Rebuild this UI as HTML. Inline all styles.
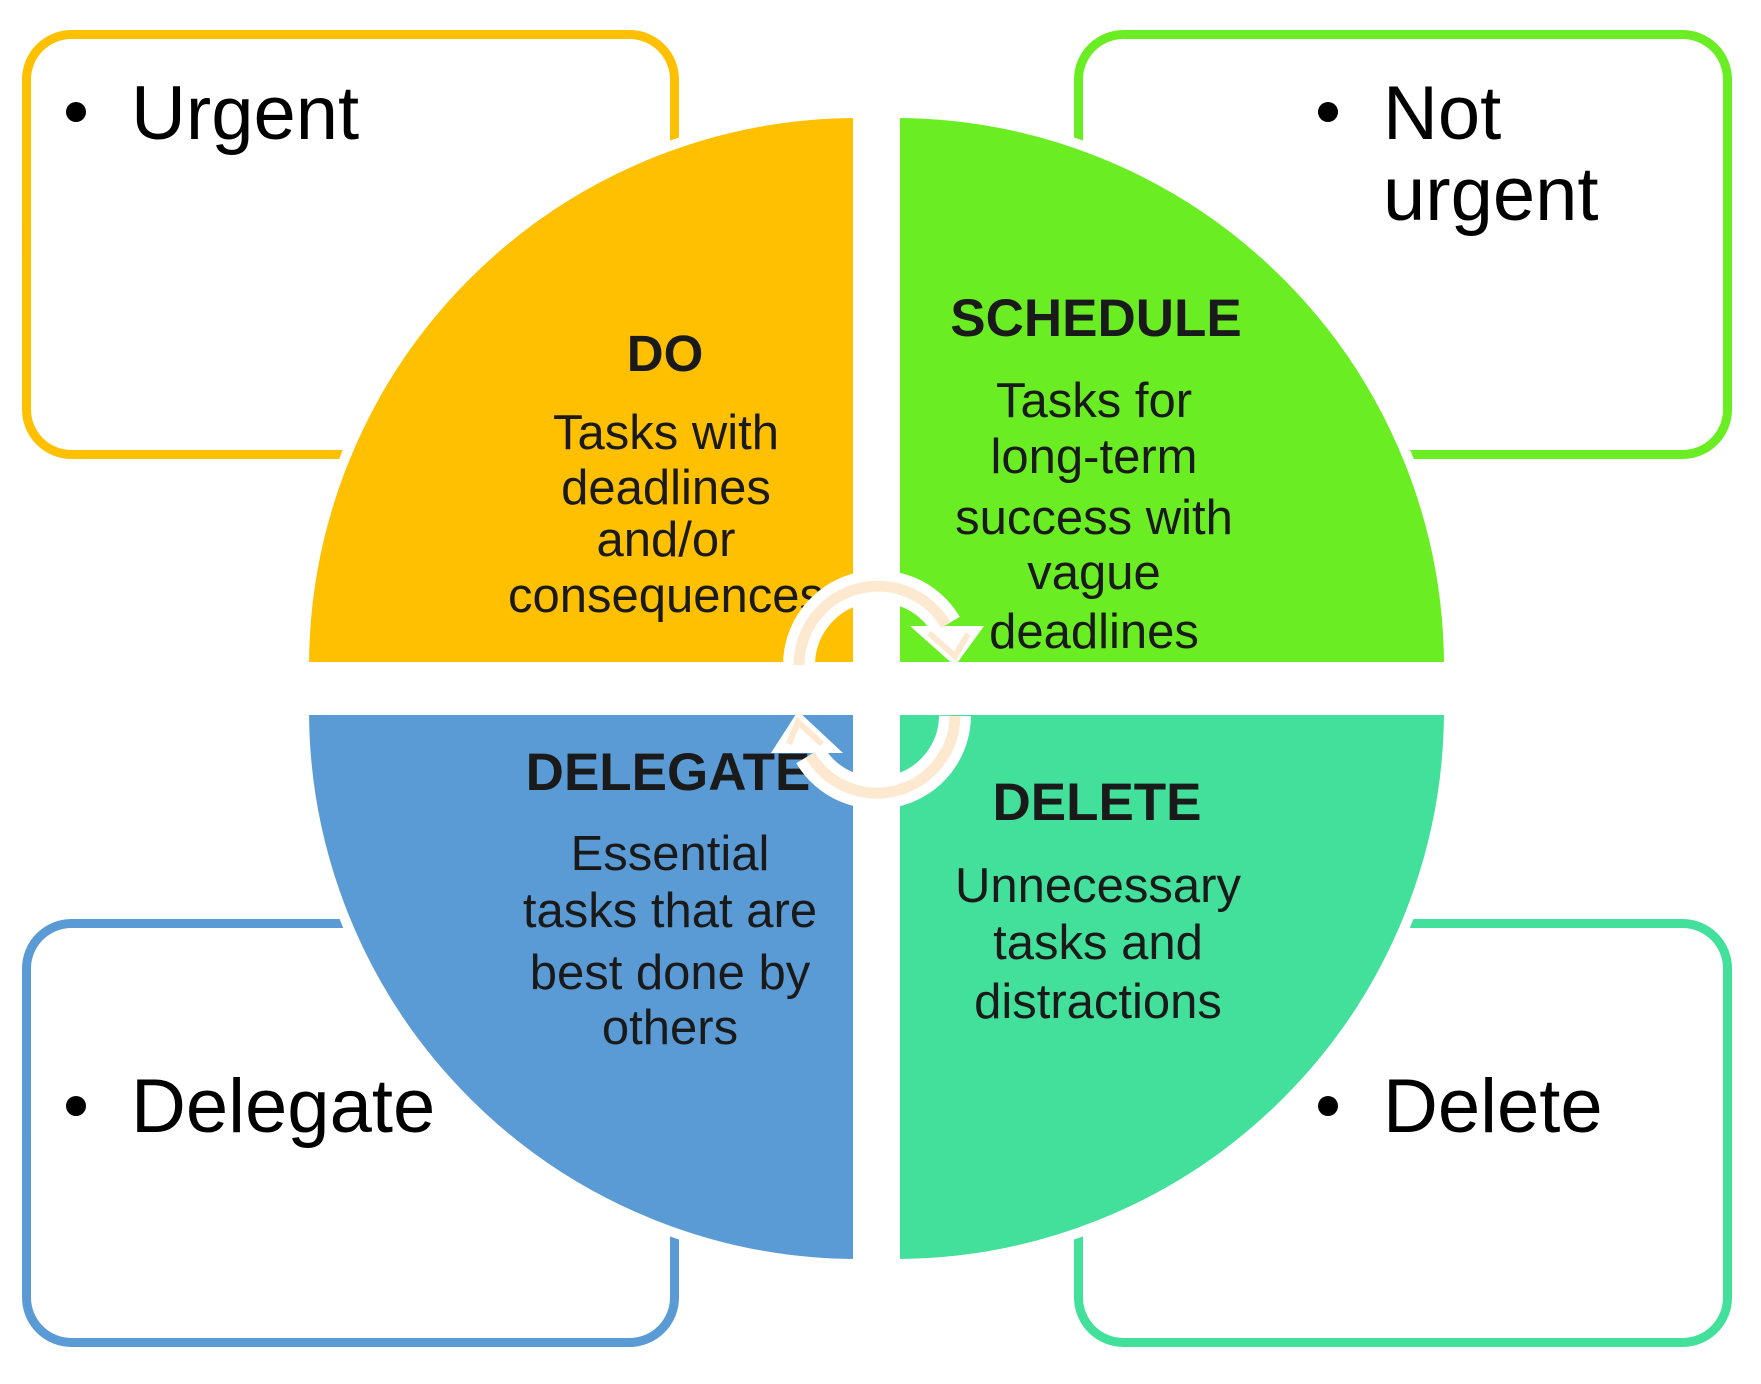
<!DOCTYPE html>
<html><head><meta charset="utf-8"><style>
html,body{margin:0;padding:0;background:#fff;}
svg{display:block;}
text{font-family:"Liberation Sans",Arial,sans-serif;}
</style></head><body>
<svg width="1761" height="1384" viewBox="0 0 1761 1384" xmlns="http://www.w3.org/2000/svg">
<!-- boxes -->
<rect x="26.5" y="34.5" width="648" height="420" rx="45" fill="#fff" stroke="#FEC000" stroke-width="9"/>
<rect x="1078.5" y="34.5" width="649" height="420" rx="45" fill="#fff" stroke="#6AEE23" stroke-width="9"/>
<rect x="26.5" y="923.5" width="648" height="419" rx="45" fill="#fff" stroke="#5B9BD5" stroke-width="9"/>
<rect x="1078.5" y="923.5" width="649" height="419" rx="45" fill="#fff" stroke="#42E09A" stroke-width="9"/>
<g font-size="76" fill="#000">
<circle cx="76" cy="112" r="10"/><text x="131" y="139">Urgent</text>
<circle cx="1328" cy="112" r="10"/><text x="1383" y="139">Not</text><text x="1383" y="220">urgent</text>
<circle cx="76" cy="1106" r="10"/><text x="131" y="1132">Delegate</text>
<circle cx="1328" cy="1106" r="10"/><text x="1383" y="1132">Delete</text>
</g>
<!-- quadrants -->
<g stroke="#fff" stroke-width="10">
<path d="M858,667 L304,667 A554,554 0 0 1 858,113 Z" fill="#FEC000"/>
<path d="M895,667 L895,113 A554,554 0 0 1 1449,667 Z" fill="#6AEE23"/>
<path d="M858,710 L858,1264 A554,554 0 0 1 304,710 Z" fill="#5B9BD5"/>
<path d="M895,710 L1449,710 A554,554 0 0 1 895,1264 Z" fill="#42E09A"/>
</g>
<g fill="#1a1a1a" text-anchor="middle">
<text x="665" y="371" font-size="51" font-weight="bold">DO</text>
<g font-size="49"><text x="666" y="449">Tasks with</text><text x="666" y="504">deadlines</text><text x="666" y="556">and/or</text><text x="666" y="612">consequences</text></g>
<text x="1096" y="336" font-size="53" font-weight="bold">SCHEDULE</text>
<g font-size="49"><text x="1094" y="417">Tasks for</text><text x="1094" y="473">long-term</text><text x="1094" y="534">success with</text><text x="1094" y="589">vague</text><text x="1094" y="648">deadlines</text></g>
<text x="668" y="790" font-size="53" font-weight="bold">DELEGATE</text>
<g font-size="49"><text x="670" y="870">Essential</text><text x="670" y="927">tasks that are</text><text x="670" y="989">best done by</text><text x="670" y="1044">others</text></g>
<text x="1097" y="820" font-size="53" font-weight="bold">DELETE</text>
<g font-size="49"><text x="1098" y="902">Unnecessary</text><text x="1098" y="959">tasks and</text><text x="1098" y="1018">distractions</text></g>
</g>
<!-- circular arrows -->
<g fill="none">
<path d="M799,665 A79,79 0 0 1 946,625" stroke="#fff" stroke-width="32"/>
<polygon points="910,626 984,626 955,666" fill="#fff"/>
<path d="M799,665 A79,79 0 0 1 946,625" stroke="#FDE8D0" stroke-width="11"/>
<polyline points="929,633 955,656 968,634" stroke="#FDE8D0" stroke-width="6"/>
<path d="M955,716 A78,78 0 0 1 810,755" stroke="#fff" stroke-width="32"/>
<polygon points="771,753 843,753 798,711" fill="#fff"/>
<path d="M955,716 A78,78 0 0 1 810,755" stroke="#FDE8D0" stroke-width="11"/>
<polyline points="789,744 798,722 822,744" stroke="#FDE8D0" stroke-width="6"/>
</g>
</svg>
</body></html>
